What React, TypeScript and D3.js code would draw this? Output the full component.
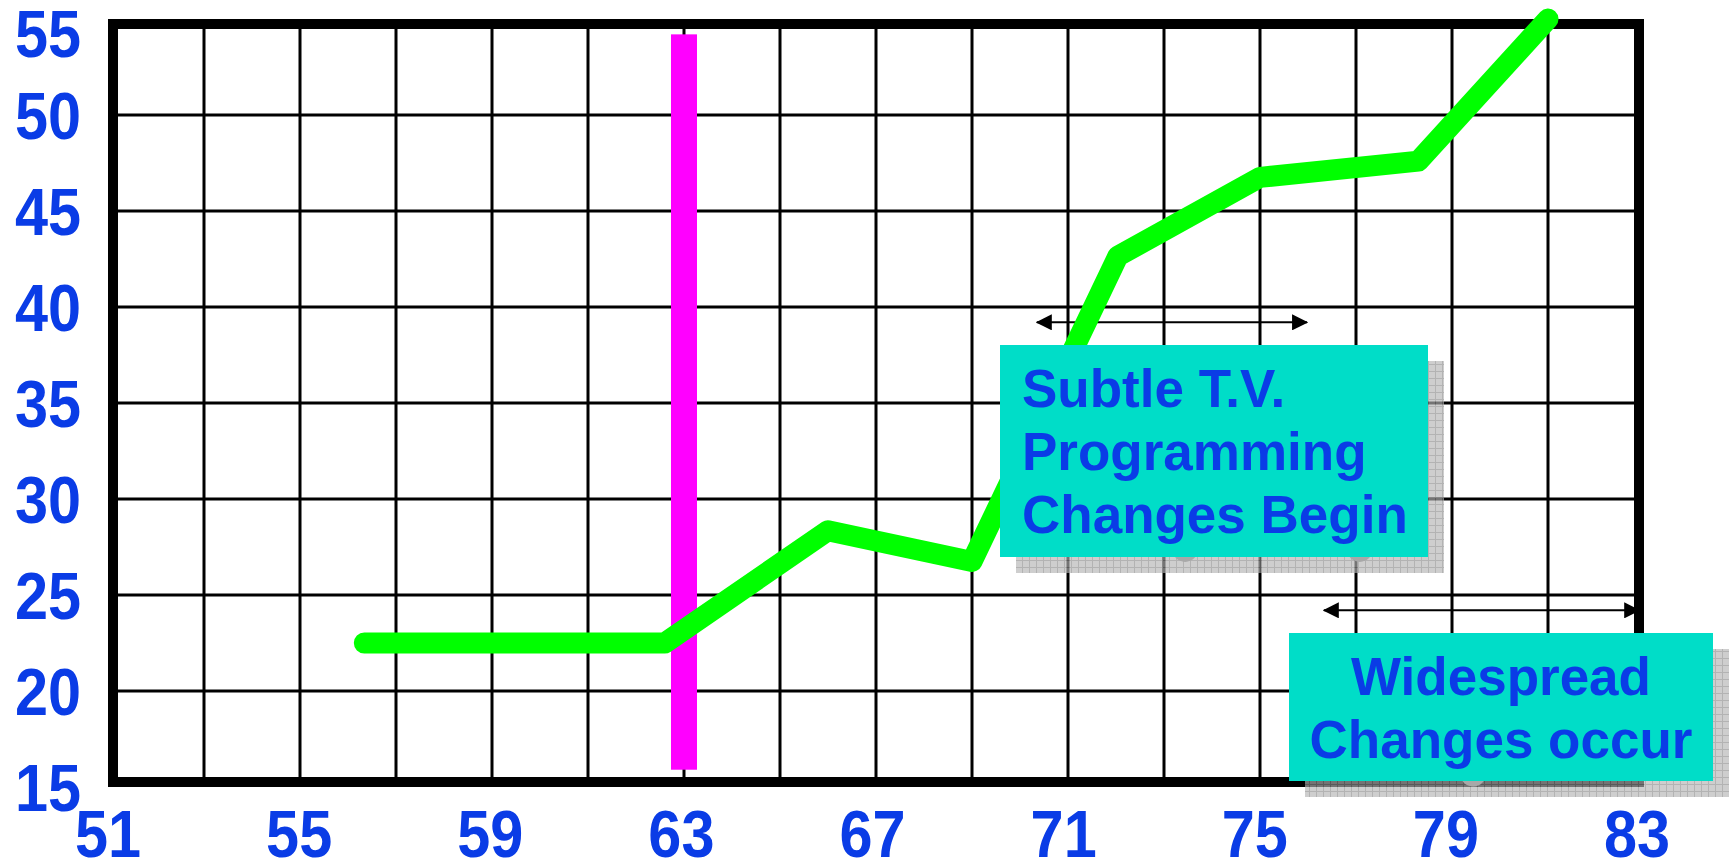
import React from "react";
import * as d3 from "d3";

// ---- data ----
const years = [56.34, 62.6, 66.0, 69.0, 72.04, 75.0, 78.3, 81.0];
const values = [22.5, 22.5, 28.35, 26.75, 42.65, 46.75, 47.6, 55.0];
const xTicks = [51, 55, 59, 63, 67, 71, 75, 79, 83];
const yTicks = [15, 20, 25, 30, 35, 40, 45, 50, 55];
const xGridYears = [53, 55, 57, 59, 61, 63, 65, 67, 69, 71, 73, 75, 77, 79, 81];
const yGridValues = [20, 25, 30, 35, 40, 45, 50];
const markerYear = 63;
const markerRange = [15.9, 54.2];
const arrowYears1 = [70.35, 75.98];
const arrowValue1 = 39.2;
const arrowYears2 = [76.33, 82.9];
const arrowValue2 = 24.2;
const hiddenMarkerYears = [73.44, 77.08, 79.44];
const hiddenMarkerValues = [27.4, 27.4, 15.7];
const box1Lines = ["Subtle T.V.", "Programming", "Changes Begin"];
const box2Lines = ["Widespread", "Changes occur"];

const BLUE = "#0a3ce6";
const CYAN = "#00ddc8";
const FONT = "'Liberation Sans', Arial, Helvetica, sans-serif";

export default function App() {
  const W = 1731;
  const H = 860;
  const x = d3.scaleLinear().domain([51, 83]).range([108, 1644]);
  const y = d3.scaleLinear().domain([15, 55]).range([787, 19]);

  const pts: [number, number][] = years.map((yr, i) => [x(yr), y(values[i])]);
  const line = d3.line()(pts) as string;

  const labelScaleX = 0.9;

  const shadow = (bx: number, by: number, bw: number, bh: number) => (
    <rect x={bx + 16} y={by + 16} width={bw} height={bh} fill="url(#shadowPat)" opacity={0.65} />
  );

  const b1 = { x: 1000, y: 345, w: 428, h: 212 };
  const b2 = { x: 1289, y: 633, w: 424, h: 148 };

  return (
    <svg
      width={W}
      height={H}
      style={{ position: "absolute", left: 0, top: 0, background: "#fff" }}
      xmlns="http://www.w3.org/2000/svg"
    >
      <defs>
        <pattern id="shadowPat" width={7} height={7} patternUnits="userSpaceOnUse">
          <rect width={7} height={7} fill="#b3b3b3" />
          <path d="M0 0.5 H7 M0.5 0 V7" stroke="#8a8a8a" strokeWidth={1} />
        </pattern>
        <marker id="ah" viewBox="0 0 16 16" refX={15} refY={8} markerWidth={16} markerHeight={16}
          markerUnits="userSpaceOnUse" orient="auto-start-reverse">
          <path d="M0 0 L16 8 L0 16 Z" fill="#000" />
        </marker>
      </defs>
      <rect x={0} y={0} width={W} height={H} fill="#fff" />

      {/* grid */}
      <g stroke="#000" strokeWidth={3}>
        {xGridYears.map((g) => (
          <line key={"vx" + g} x1={x(g)} x2={x(g)} y1={y(55)} y2={y(15)} />
        ))}
        {yGridValues.map((g) => (
          <line key={"hy" + g} x1={x(51)} x2={x(83)} y1={y(g)} y2={y(g)} />
        ))}
      </g>

      {/* magenta marker bar */}
      <rect
        x={x(markerYear) - 13}
        y={y(markerRange[1])}
        width={26}
        height={y(markerRange[0]) - y(markerRange[1])}
        fill="#ff00ff"
      />

      {/* arrows */}
      <line x1={x(arrowYears1[0])} x2={x(arrowYears1[1])} y1={y(arrowValue1)} y2={y(arrowValue1)}
        stroke="#000" strokeWidth={2} markerStart="url(#ah)" markerEnd="url(#ah)" />
      <line x1={x(arrowYears2[0])} x2={x(arrowYears2[1])} y1={y(arrowValue2)} y2={y(arrowValue2)}
        stroke="#000" strokeWidth={2} markerStart="url(#ah)" markerEnd="url(#ah)" />

      {/* frame */}
      <rect x={x(51) + 5} y={y(55) + 5} width={x(83) - x(51) - 10} height={y(15) - y(55) - 10}
        fill="none" stroke="#000" strokeWidth={10} />

      {/* green series */}
      <path d={line} fill="none" stroke="#00ff00" strokeWidth={21} strokeLinecap="round" strokeLinejoin="round" />

      {/* shadows */}
      {shadow(b1.x, b1.y, b1.w, b1.h)}
      {shadow(b2.x, b2.y, b2.w, b2.h)}
      {hiddenMarkerYears.map((hy, i) => (
        <circle key={"hm" + i} cx={x(hy)} cy={y(hiddenMarkerValues[i])} r={13} fill="#a8a8a8" />
      ))}

      {/* boxes */}
      <rect x={b1.x} y={b1.y} width={b1.w} height={b1.h} fill={CYAN} />
      <rect x={b2.x} y={b2.y} width={b2.w} height={b2.h} fill={CYAN} />
      <g fontFamily={FONT} fontWeight="bold" fontSize={53} fill={BLUE}>
        {box1Lines.map((t, i) => (
          <text key={"b1" + i} x={b1.x + 22} y={407 + i * 63}>{t}</text>
        ))}
        {box2Lines.map((t, i) => (
          <text key={"b2" + i} x={b2.x + b2.w / 2} y={695 + i * 63} textAnchor="middle">{t}</text>
        ))}
      </g>

      {/* tick labels */}
      <g fontFamily={FONT} fontWeight="bold" fontSize={66} fill={BLUE}>
        {yTicks.map((v) => {
          const base = Math.max(y(v) + 23.5, 57);
          return (
            <text key={"yt" + v} transform={`translate(81,${base}) scale(${labelScaleX},1)`} textAnchor="end">
              {v}
            </text>
          );
        })}
        {xTicks.map((v) => {
          const cx = x(v) - ((v - 51) / 32) * 7;
          return (
            <text key={"xt" + v} transform={`translate(${cx},857) scale(${labelScaleX},1)`} textAnchor="middle">
              {v}
            </text>
          );
        })}
      </g>
    </svg>
  );
}
